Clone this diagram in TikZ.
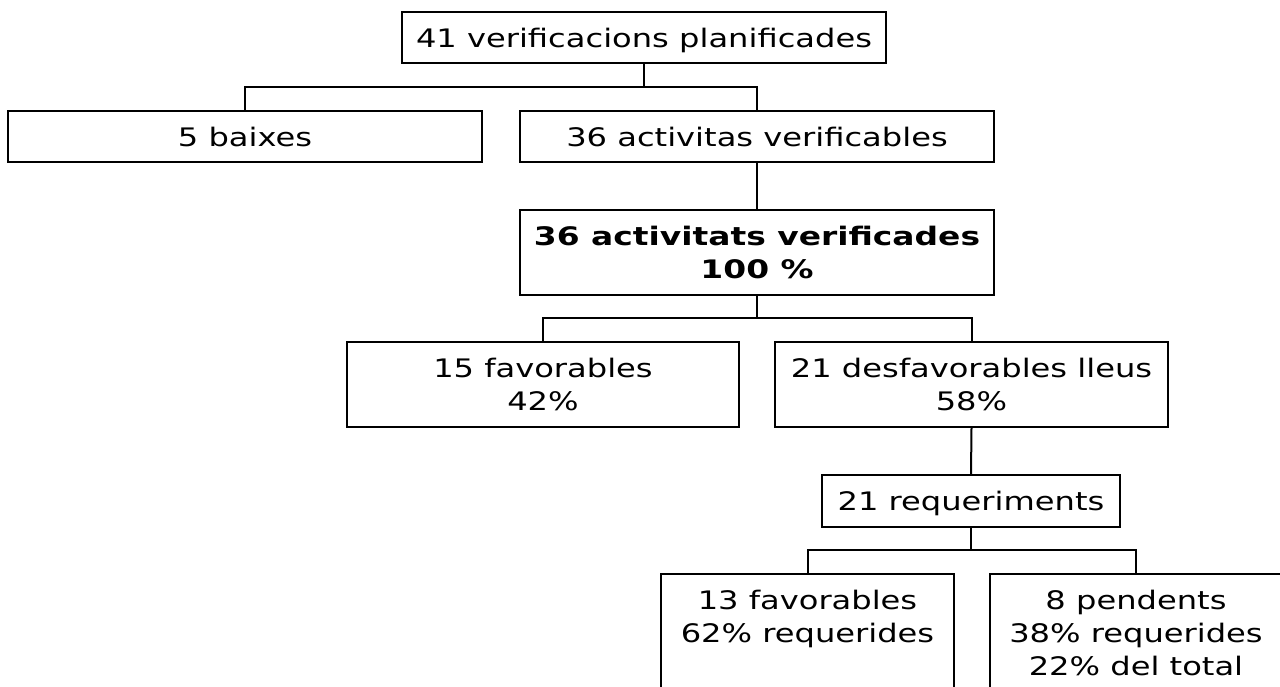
\documentclass[tikz,border=0pt]{standalone}
\usepackage{fontspec}
\setmainfont[FakeStretch=1.26,BoldFeatures={FakeStretch=1.29}]{DejaVu Sans}
\begin{document}
\begin{tikzpicture}[x=1pt,y=-1pt,
  box/.style={draw=black,line width=2.2pt,inner sep=0pt,align=center,
    font=\fontsize{25.5}{33}\selectfont},
  one/.style={box,text depth=0pt},
  conn/.style={draw=black,line width=2pt}]
\useasboundingbox (0,0) rectangle (1280,686);
\clip (0,0) rectangle (1280,686);
\fill[white] (0,0) rectangle (1280,686);
\node[one,minimum width=484pt,minimum height=51pt] (top) at (644,37.5) {41 verificacions planificades};
\node[one,minimum width=474pt,minimum height=51pt] (baixes) at (245,136.5) {5 baixes};
\node[one,minimum width=474pt,minimum height=51pt] (verif) at (757,136.5) {36 activitas verificables};
\node[box,minimum width=474pt,minimum height=85pt,font=\fontsize{25.5}{33}\selectfont\bfseries] (done) at (757,252.5) {36 activitats verificades\\100 \%};
\node[box,minimum width=392pt,minimum height=85pt] (fav) at (543,384.5) {15 favorables\\42\%};
\node[box,minimum width=393pt,minimum height=85pt] (desf) at (971.5,384.5) {21 desfavorables lleus\\58\%};
\node[one,minimum width=298pt,minimum height=52pt] (req) at (971,501) {21 requeriments};
\node[box,minimum width=293pt,minimum height=118pt] (fav13) at (807.5,633) {13 favorables\\62\% requerides\\\phantom{0}};
\node[box,minimum width=292pt,minimum height=118pt] (pend) at (1136,633) {8 pendents\\38\% requerides\\22\% del total};
\coordinate (j1) at (644,87);
\coordinate (j2) at (757,318);
\coordinate (j3) at (971,550);
\draw[conn] (top.south) -- (j1);
\draw[conn] (baixes.north) |- (j1) -| (verif.north);
\draw[conn] (verif.south) -- (done.north);
\draw[conn] (done.south) -- (j2);
\draw[conn] (fav.north) |- (j2) -| (desf.north);
\draw[conn] (desf.south) -- (req.north);
\draw[conn] (req.south) -- (j3);
\draw[conn] (fav13.north) |- (j3) -| (pend.north);
\end{tikzpicture}
\end{document}
